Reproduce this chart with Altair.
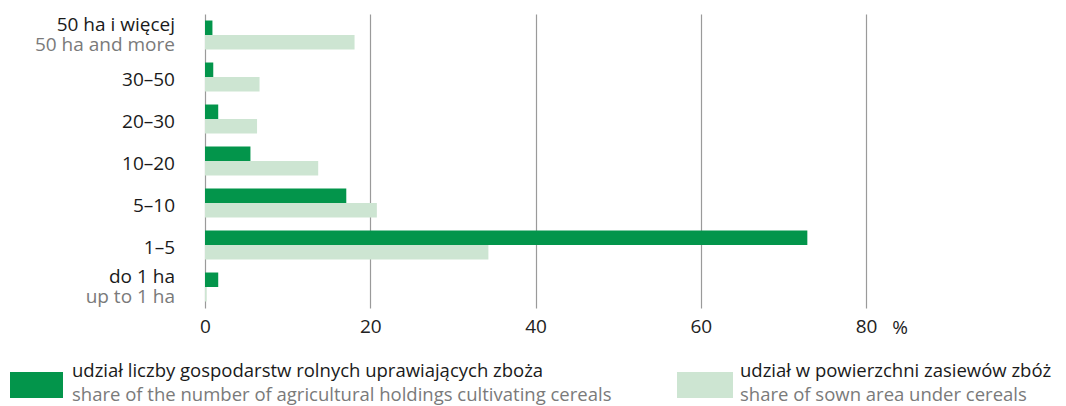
import altair as alt
import pandas as pd

categories = ["50+", "30–50", "20–30", "10–20", "5–10", "1–5", "do1"]
labels_pl = ["50 ha i więcej", "30–50", "20–30", "10–20", "5–10", "1–5", "do 1 ha"]
labels_en = ["50 ha and more", "", "", "", "", "", "up to 1 ha"]
holdings = [0.9, 1.0, 1.6, 5.5, 17.1, 72.9, 1.6]
area = [18.1, 6.6, 6.3, 13.7, 20.8, 34.3, 0.2]
series_pl = ["udział liczby gospodarstw rolnych uprawiających zboża", "udział w powierzchni zasiewów zbóż"]
series_en = ["share of the number of agricultural holdings cultivating cereals", "share of sown area under cereals"]
colors = ["#03954b", "#cde5d2"]
x_ticks = [0, 20, 40, 60, 80]

FONT = "Open Sans"
FS = 19
LFS = 18.5
W, H = 661, 294

rows = []
for c, a, b in zip(categories, holdings, area):
    rows.append({"cat": c, "series": "s1", "value": a})
    rows.append({"cat": c, "series": "s2", "value": b})
bars_df = pd.DataFrame(rows)
lab_df = pd.DataFrame({"cat": categories, "pl": labels_pl, "en": labels_en})
two = lab_df[lab_df["en"] != ""]
one = lab_df[lab_df["en"] == ""]

yscale = alt.Scale(domain=categories, paddingInner=0.31, paddingOuter=0.155)
xscale = alt.Scale(domain=[0, 80], nice=False)

bars = alt.Chart(bars_df).mark_bar(cornerRadius=0).encode(
    x=alt.X("value:Q", scale=xscale,
            axis=alt.Axis(values=x_ticks, title=None, grid=True, gridColor="#9a9a9a",
                          gridWidth=1.2, domain=False, ticks=False, labelFont=FONT,
                          labelFontSize=FS, labelColor="#222", labelPadding=9,
                          labelFlush=False)),
    y=alt.Y("cat:N", scale=yscale, axis=None),
    yOffset=alt.YOffset("series:N", scale=alt.Scale(domain=["s1", "s2"], paddingInner=0, paddingOuter=0)),
    color=alt.Color("series:N", scale=alt.Scale(domain=["s1", "s2"], range=colors), legend=None),
)

lab_one = alt.Chart(one).mark_text(align="right", baseline="middle", font=FONT, fontSize=FS,
                                   color="#1a1a1a", dy=3).encode(
    x=alt.value(-30), y=alt.Y("cat:N", scale=yscale, axis=None), text="pl:N")
lab_two1 = alt.Chart(two).mark_text(align="right", baseline="middle", font=FONT, fontSize=FS,
                                    color="#1a1a1a", dy=-10).encode(
    x=alt.value(-30), y=alt.Y("cat:N", scale=yscale, axis=None), text="pl:N")
lab_two2 = alt.Chart(two).mark_text(align="right", baseline="middle", font=FONT, fontSize=FS,
                                    color="#7a7a7a", dy=10).encode(
    x=alt.value(-30), y=alt.Y("cat:N", scale=yscale, axis=None), text="en:N")

pct = alt.Chart(pd.DataFrame({"t": ["%"]})).mark_text(
    align="center", baseline="middle", font=FONT, fontSize=FS, color="#222").encode(
    x=alt.value(695), y=alt.value(H + 20), text="t:N")

leg_df = pd.DataFrame({
    "x": [-195, 472], "x2": [-142, 528], "tx": [-133, 535],
    "pl": series_pl, "en": series_en, "c": colors,
})
leg_rect = alt.Chart(leg_df).mark_rect().encode(
    x=alt.X("x:Q", scale=None), x2="x2:Q",
    y=alt.value(358), y2=alt.value(384),
    color=alt.Color("c:N", scale=None))
leg_t1 = alt.Chart(leg_df).mark_text(align="left", baseline="middle", font=FONT, fontSize=LFS,
                                     color="#1a1a1a").encode(
    x=alt.X("tx:Q", scale=None), y=alt.value(357), text="pl:N")
leg_t2 = alt.Chart(leg_df).mark_text(align="left", baseline="middle", font=FONT, fontSize=LFS,
                                     color="#7a7a7a").encode(
    x=alt.X("tx:Q", scale=None), y=alt.value(381), text="en:N")

chart = alt.layer(bars, lab_one, lab_two1, lab_two2, pct, leg_rect, leg_t1, leg_t2).properties(
    width=W, height=H,
    autosize=alt.AutoSizeParams(type="none"),
    padding={"left": 197, "top": 6, "right": 192, "bottom": 98},
).configure_view(stroke=None).configure_axis(labelFont=FONT)

chart.save("out.html", embed_options={"renderer": "svg", "actions": False})
